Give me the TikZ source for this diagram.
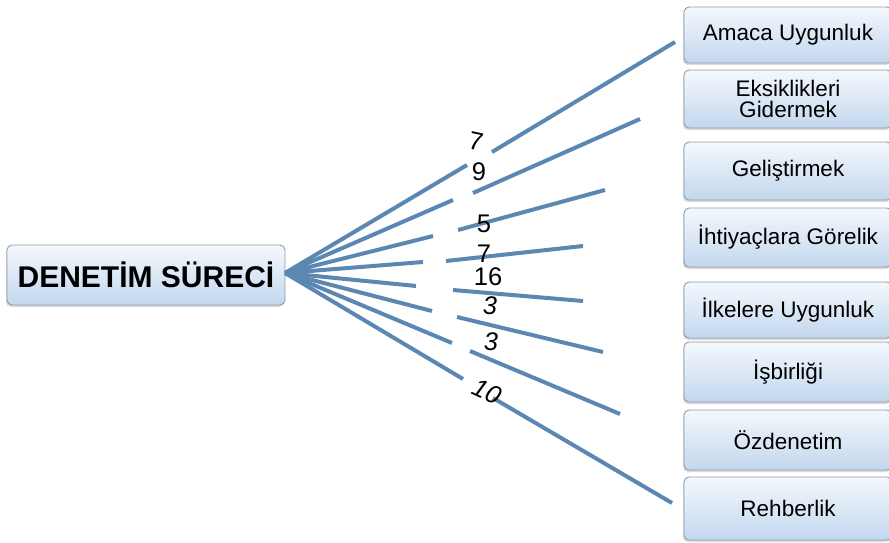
\documentclass[tikz,border=0pt]{standalone}
\usepackage{fontspec}
\setmainfont{Liberation Sans}
\usetikzlibrary{shadows}
\definecolor{linec}{HTML}{5B88B2}
\definecolor{boxtop}{HTML}{F4F8FC}
\definecolor{boxbot}{HTML}{C3D7EE}
\definecolor{boxdraw}{HTML}{8E9CAB}
\tikzset{
  box/.style={draw=boxdraw, line width=0.9pt, rounded corners=5pt,
    top color=boxtop, bottom color=boxbot, align=center,
    drop shadow={shadow xshift=-1pt, shadow yshift=-2pt, opacity=0.3},
    minimum width=208pt, inner sep=0pt,
    font=\fontsize{22.5}{21.5}\selectfont},
  mainbox/.style={box, minimum width=278pt, minimum height=60pt,
    font=\fontsize{30}{30}\selectfont\bfseries},
  conn/.style={draw=linec, line width=4pt},
  lab/.style={inner sep=0pt, font=\fontsize{25.5}{25.5}\selectfont},
  labi/.style={lab, font=\fontsize{25.5}{25.5}\selectfont\itshape}
}
\begin{document}
\begin{tikzpicture}[x=1pt,y=-1pt]
\useasboundingbox (0,0) rectangle (889,543);
\node[mainbox] (main) at (146,275) {DENETİM SÜRECİ};
\node[box, minimum height=56pt] (r1) at (788,35) {Amaca Uygunluk};
\node[box, minimum height=58pt] (r2) at (788,99) {Eksiklikleri\\Gidermek};
\node[box, minimum height=58pt] (r3) at (788,171) {Geliştirmek};
\node[box, minimum height=59pt] (r4) at (788,237.5) {İhtiyaçlara Görelik};
\node[box, minimum height=56pt] (r5) at (788,310) {İlkelere Uygunluk};
\node[box, minimum height=60pt] (r6) at (788,372) {İşbirliği};
\node[box, minimum height=60pt] (r7) at (788,440) {Özdenetim};
\node[box, minimum height=63pt] (r8) at (788,508.5) {Rehberlik};
% connector coordinates
\coordinate (hub) at (285,273);
\coordinate (a1) at (467,165); \coordinate (b1) at (492,152); \coordinate (c1) at (675,42);
\coordinate (a2) at (453,200); \coordinate (b2) at (473,193); \coordinate (c2) at (640,119);
\coordinate (a3) at (433,236); \coordinate (b3) at (458,230); \coordinate (c3) at (605,190);
\coordinate (a4) at (423,262); \coordinate (b4) at (446,261); \coordinate (c4) at (583,246);
\coordinate (a5) at (416,286); \coordinate (b5) at (453,290); \coordinate (c5) at (583,301);
\coordinate (a6) at (432,311); \coordinate (b6) at (457,317); \coordinate (c6) at (603,352);
\coordinate (a7) at (452,343); \coordinate (b7) at (470,351); \coordinate (c7) at (620,414);
\coordinate (a8) at (463,379); \coordinate (b8) at (493,398); \coordinate (c8) at (672,503);
\foreach \i in {1,...,8}{
  \draw[conn] (hub) -- (a\i);
  \draw[conn] (b\i) -- (c\i);
}
\node[lab, rotate=-12] (l1) at (476,141) {7};
\node[lab] (l2) at (479,172) {9};
\node[lab] (l3) at (484,224) {5};
\node[lab] (l4) at (484,254) {7};
\node[lab] (l5) at (488,277) {16};
\node[labi] (l6) at (490,306) {3};
\node[labi] (l7) at (491,342) {3};
\node[labi, rotate=-25] (l8) at (487,392) {10};
\end{tikzpicture}
\end{document}
